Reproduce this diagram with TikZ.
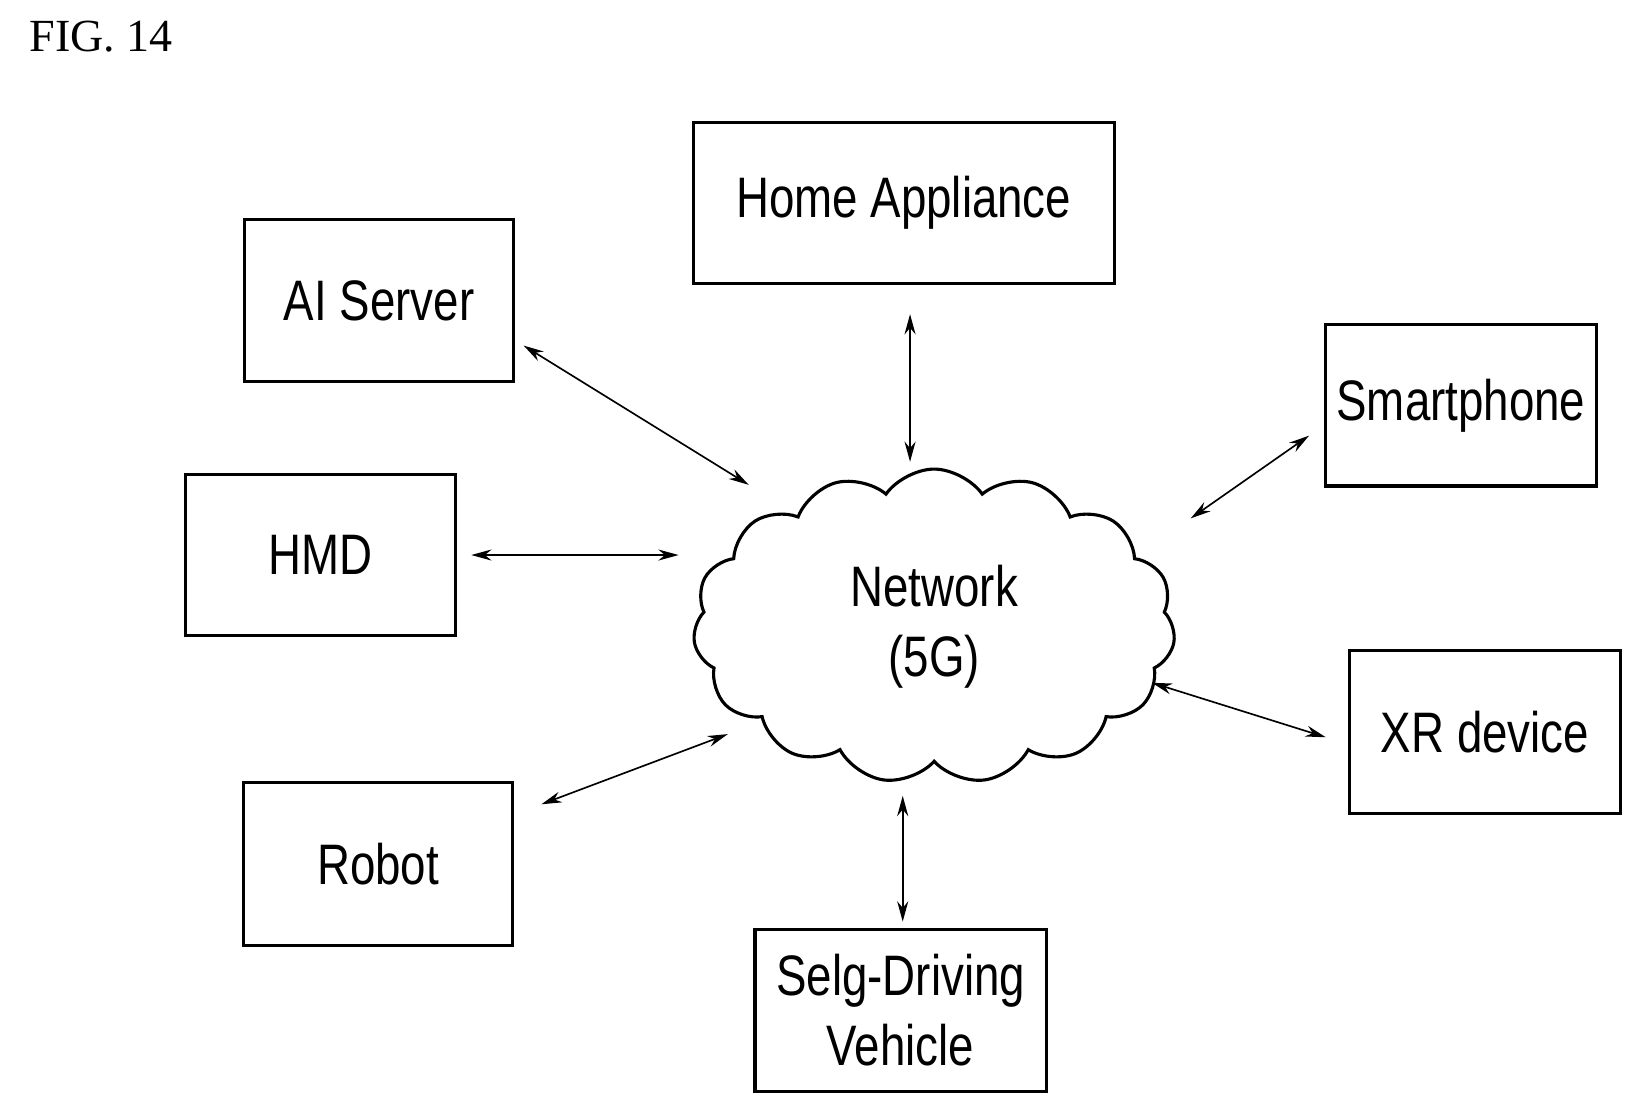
\documentclass[tikz,border=0pt]{standalone}
\usepackage{fontspec}
\setmainfont{Liberation Serif}
\newfontfamily\boxfont[FakeStretch=0.8]{Liberation Sans}
\usetikzlibrary{shapes.symbols,arrows.meta}
\begin{document}
\begin{tikzpicture}[
        x=0.01cm, y=-0.01cm,
        dev/.style={draw, line width=0.85pt, rectangle, font=\boxfont\fontsize{15.5}{19}\selectfont, align=center, inner sep=0pt},
        link/.style={{Stealth[length=5.5pt,width=3pt]}-{Stealth[length=5.5pt,width=3pt]}, line width=0.45pt}
        ]
    \useasboundingbox (0,0) rectangle (1567,1064);
    \node[anchor=west, font=\fontsize{12.5}{14}\selectfont] (fig) at (16,35) {FIG. 14};
    % devices
    \node[dev, minimum width=4.02cm, minimum height=1.54cm] (home) at (863,194) {Home Appliance};
    \node[dev, minimum width=2.57cm, minimum height=1.54cm] (ai) at (362,287) {AI Server};
    \node[dev, minimum width=2.58cm, minimum height=1.54cm] (phone) at (1395,387) {Smartphone};
    \node[dev, minimum width=2.57cm, minimum height=1.54cm] (hmd) at (306,530) {HMD};
    \node[dev, minimum width=2.59cm, minimum height=1.55cm] (xr) at (1418,699) {XR device};
    \node[dev, minimum width=2.57cm, minimum height=1.55cm] (robot) at (361,825) {Robot};
    \node[dev, minimum width=2.78cm, minimum height=1.55cm] (car) at (860,965) {Selg-Driving\\Vehicle};
    % cloud
    \node[cloud, draw, line width=0.85pt, cloud puffs=15, cloud puff arc=110, aspect=1.45,
          minimum width=4.6cm, minimum height=3.0cm, inner sep=0pt, font=\boxfont\fontsize{15.5}{19}\selectfont, align=center]
          (net) at (892,598) {Network\\(5G)};
    % links
    \coordinate (ai-e) at (500,330);   \coordinate (net-ai) at (715,463);
    \coordinate (home-e) at (869,300); \coordinate (net-home) at (869,441);
    \coordinate (phone-e) at (1250,416); \coordinate (net-phone) at (1137,495);
    \coordinate (hmd-e) at (450,530);  \coordinate (net-hmd) at (648,530);
    \coordinate (xr-e) at (1266,704);  \coordinate (net-xr) at (1100,652);
    \coordinate (robot-e) at (517,768); \coordinate (net-robot) at (695,701);
    \coordinate (car-e) at (862,880);  \coordinate (net-car) at (862,760);
    \foreach \d in {ai,home,phone,hmd,xr,robot,car}
        \draw[link] (\d-e) -- (net-\d);
\end{tikzpicture}
\end{document}
